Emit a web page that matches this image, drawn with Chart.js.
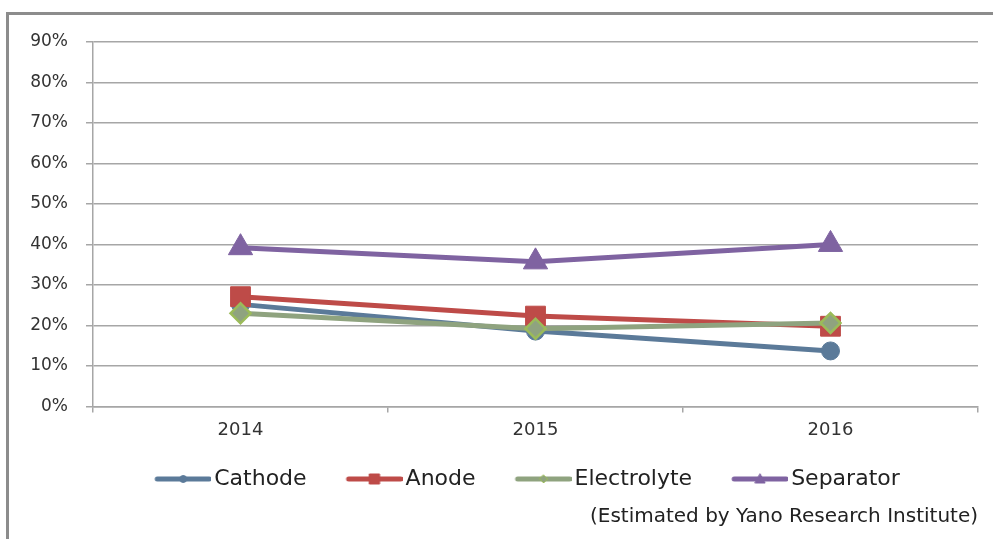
<!DOCTYPE html>
<html>
<head>
<meta charset="utf-8">
<script src="https://cdn.jsdelivr.net/npm/chart.js@4/dist/chart.umd.min.js"></script>
<style>
  html, body { margin: 0; padding: 0; background: #fff; }
  #wrap { position: relative; width: 993px; height: 539px; overflow: hidden; }
  #frame { position: absolute; left: 6px; top: 12px; width: 1000px; height: 600px;
           border-left: 3px solid #8c8c8c; border-top: 3px solid #8c8c8c; }
  #c { position: absolute; left: 0; top: 0; }
</style>
</head>
<body>
<div id="wrap">
  <div id="frame"></div>
  <canvas id="c" width="993" height="539"></canvas>
</div>
<script>
const categories = ['2014', '2015', '2016'];
const cathode = [25.2, 18.6, 13.7];
const anode = [27.1, 22.3, 19.8];
const electrolyte = [23.0, 19.2, 20.6];
const separator = [39.2, 35.7, 40.0];
const yTicks = [0, 10, 20, 30, 40, 50, 60, 70, 80, 90];
const seriesNames = ['Cathode', 'Anode', 'Electrolyte', 'Separator'];
const footnote = '(Estimated by Yano Research Institute)';

const COL = {
  cathode: '#5B7A99',
  anode: '#BE4B48',
  elecLine: '#8FA37F',
  elecBorder: '#9BBB59',
  separator: '#7F63A1'
};

// legend icon: blank lead-in (LEAD) + 56px line ending right next to the text
const LEAD = 20, LINE = 56, SHIFT = 8;
const BOXW = LEAD + LINE - SHIFT;
function legendIcon(color, shape, fill, border) {
  const w = BOXW + SHIFT * 2, h = 14;
  const cv = document.createElement('canvas');
  cv.width = w; cv.height = h;
  const g = cv.getContext('2d');
  const x1 = w, x0 = w - LINE, cy = h / 2, cx = (x0 + x1) / 2;
  g.strokeStyle = color; g.lineWidth = 5; g.lineCap = 'round';
  g.beginPath(); g.moveTo(x0 + 2, cy); g.lineTo(x1 - 2, cy); g.stroke();
  g.fillStyle = fill || color;
  g.strokeStyle = border || color; g.lineWidth = 1;
  g.beginPath();
  if (shape === 'circle') { g.arc(cx, cy, 3.5, 0, Math.PI * 2); }
  else if (shape === 'rect') { g.rect(cx - 5, cy - 5, 10, 10); }
  else if (shape === 'diamond') { g.moveTo(cx, cy - 4); g.lineTo(cx + 4, cy); g.lineTo(cx, cy + 4); g.lineTo(cx - 4, cy); g.closePath(); }
  else if (shape === 'triangle') { g.moveTo(cx, cy - 5); g.lineTo(cx + 5, cy + 4); g.lineTo(cx - 5, cy + 4); g.closePath(); }
  g.fill(); g.stroke();
  return cv;
}

const icons = [
  legendIcon(COL.cathode, 'circle'),
  legendIcon(COL.anode, 'rect'),
  legendIcon(COL.elecLine, 'diamond', COL.elecLine, COL.elecBorder),
  legendIcon(COL.separator, 'triangle')
];

const FONT = "'DejaVu Sans', sans-serif";

// shift the legend box so its items are centred like the original
const legendShift = {
  id: 'legendShift',
  afterLayout(chart) {
    if (chart.legend) { chart.legend.left += 57; }
  }
};

new Chart(document.getElementById('c'), {
  type: 'line',
  plugins: [legendShift],
  data: {
    labels: categories,
    datasets: [
      { label: seriesNames[0], data: cathode, order: 4, borderColor: COL.cathode, backgroundColor: COL.cathode,
        borderWidth: 5, pointStyle: 'circle', pointRadius: 9, pointBorderWidth: 1, pointBorderColor: COL.cathode },
      { label: seriesNames[1], data: anode, order: 3, borderColor: COL.anode, backgroundColor: COL.anode,
        borderWidth: 5, pointStyle: 'rect', pointRadius: 14, pointBorderWidth: 1, pointBorderColor: COL.anode },
      { label: seriesNames[2], data: electrolyte, order: 2, borderColor: COL.elecLine, backgroundColor: COL.elecLine,
        borderWidth: 5, pointStyle: 'rectRot', pointRadius: 10, pointBorderWidth: 2.5, pointBorderColor: COL.elecBorder },
      { label: seriesNames[3], data: separator, order: 1, borderColor: COL.separator, backgroundColor: COL.separator,
        borderWidth: 5, pointStyle: 'triangle', pointRadius: 14, pointBorderWidth: 1, pointBorderColor: COL.separator }
    ]
  },
  options: {
    responsive: false,
    animation: false,
    events: [],
    layout: { padding: { left: 0, right: 15, top: 42, bottom: 10 } },
    scales: {
      x: {
        offset: true,
        grid: { offset: true, drawOnChartArea: false, drawTicks: true, tickLength: 6, color: '#A6A6A6', lineWidth: 1.5 },
        border: { display: true, color: '#A6A6A6', width: 1.5 },
        ticks: { color: '#333', font: { family: FONT, size: 18 }, padding: 7 }
      },
      y: {
        min: 0, max: 90,
        afterFit: (s) => { s.width = 93; },
        afterBuildTicks: (s) => { s.ticks = yTicks.map(v => ({ value: v })); },
        grid: { color: '#A6A6A6', lineWidth: 1.5, tickLength: 7 },
        border: { display: true, color: '#A6A6A6', width: 1.5 },
        ticks: { color: '#333', font: { family: FONT, size: 17 }, padding: 18,
                 callback: (v) => v + '%' }
      }
    },
    plugins: {
      tooltip: { enabled: false },
      legend: {
        position: 'bottom',
        align: 'center',
        labels: {
          usePointStyle: true,
          pointStyleWidth: BOXW,
          boxHeight: 14,
          padding: 20,
          color: '#222',
          font: { family: FONT, size: 22 },
          generateLabels: (chart) => chart.data.datasets.map((d, i) => ({
            text: d.label,
            pointStyle: icons[i],
            fillStyle: d.borderColor,
            strokeStyle: d.borderColor,
            lineWidth: 0,
            hidden: false,
            datasetIndex: i,
            fontColor: '#222'
          }))
        }
      },
      subtitle: {
        display: true,
        text: footnote,
        position: 'bottom',
        align: 'end',
        color: '#222',
        font: { family: FONT, size: 20, weight: 'normal' },
        padding: { top: 5, bottom: 0 }
      }
    }
  }
});
</script>
</body>
</html>
